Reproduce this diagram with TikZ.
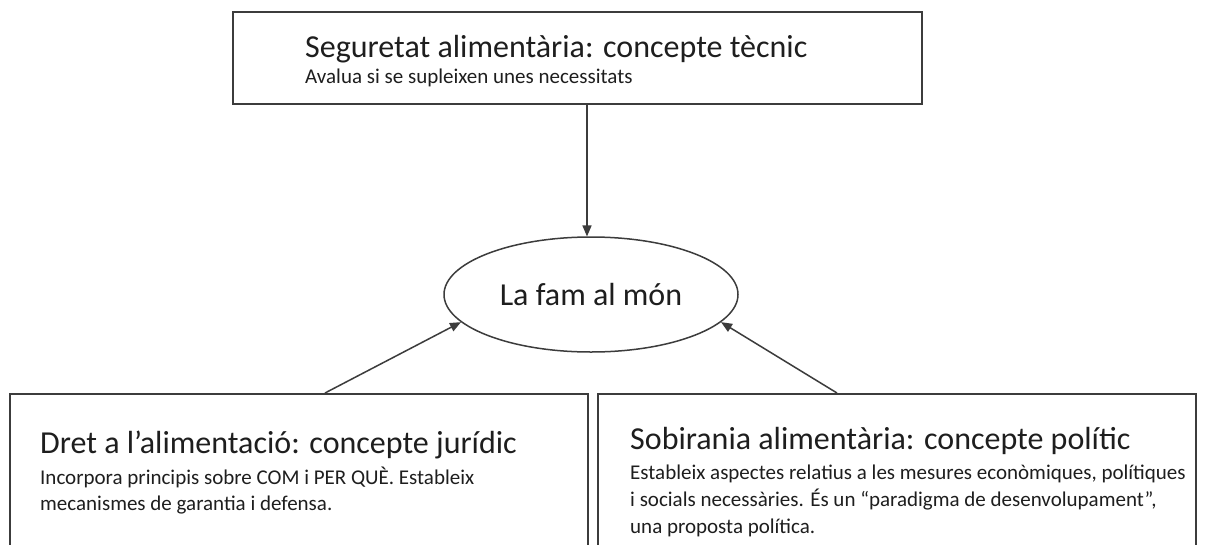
\documentclass[tikz,border=0pt]{standalone}
\usepackage{fontspec}
\setmainfont{Carlito}
\usetikzlibrary{shapes.geometric,arrows.meta,calc}
\definecolor{ink}{HTML}{1E1E1E}
\definecolor{edge}{HTML}{3C3C3C}
\tikzset{
  box/.style={draw=edge, line width=1.5pt, rectangle, anchor=north west, inner sep=0pt},
  ttl/.style={anchor=base west, inner sep=0pt, text=ink, font=\fontsize{32}{38}\selectfont},
  sub/.style={anchor=base west, inner sep=0pt, text=ink, font=\fontsize{21}{27}\selectfont},
  conn/.style={draw=edge, line width=1.5pt, -{Triangle[length=11pt,width=9pt]}},
}
\begin{document}
\begin{tikzpicture}[x=1pt,y=-1pt]
\useasboundingbox (0,0) rectangle (1205,544);
\clip (0,0) rectangle (1205,544);
\fill[white] (0,0) rectangle (1205,544);
% boxes
\node[box, minimum width=689pt, minimum height=92pt] (top) at (232,11) {};
\node[box, minimum width=578pt, minimum height=180pt] (lbox) at (9,393) {};
\node[box, minimum width=598pt, minimum height=180pt] (rbox) at (597,393) {};
\node[draw=edge, line width=1.5pt, ellipse, minimum width=294pt, minimum height=115pt, inner sep=0pt,
      text=ink, font=\fontsize{32}{38}\selectfont] (ell) at (591,294.5) {La fam al món};
% texts
\node[ttl] (t1) at (305,57) {Seguretat alimentària: concepte tècnic};
\node[sub] (s1) at (305,83) {Avalua si se supleixen unes necessitats};
\node[ttl] (t2) at (40,453) {Dret a l’alimentació: concepte jurídic};
\node[sub] (s2a) at (40,484) {Incorpora principis sobre COM i PER QUÈ. Estableix};
\node[sub] (s2b) at (40,510) {mecanismes de garantia i defensa.};
\node[ttl] (t3) at (630,449) {Sobirania alimentària: concepte polític};
\node[sub] (s3a) at (630,479) {Estableix aspectes relatius a les mesures econòmiques, polítiques};
\node[sub] (s3b) at (630,506) {i socials necessàries. És un “paradigma de desenvolupament”,};
\node[sub] (s3c) at (630,533) {una proposta política.};
% connectors
\draw[conn] ($(ell.north |- top.south)+(-4,0)$) -- ($(ell.north)+(-4,0.2)$);
\draw[conn] ($(lbox.north west)+(316,0)$) -- (ell.192);
\draw[conn] ($(rbox.north west)+(240,0)$) -- (ell.348);
\end{tikzpicture}
\end{document}
